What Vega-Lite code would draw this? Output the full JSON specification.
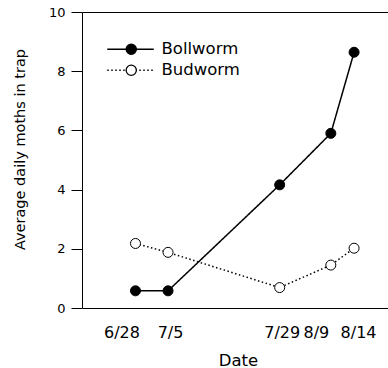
{
  "$schema": "https://vega.github.io/schema/vega-lite/v6.json",
  "width": 306,
  "height": 296,
  "autosize": {"type": "none"},
  "padding": {"left": 82, "top": 12, "right": 0, "bottom": 60},
  "background": "white",
  "config": {
    "view": {"stroke": null},
    "font": "DejaVu Sans",
    "axis": {"labelColor": "black", "titleColor": "black", "domainColor": "black", "tickColor": "black", "domainWidth": 1, "tickWidth": 1, "titleFontWeight": "normal", "labelFont": "DejaVu Sans", "titleFont": "DejaVu Sans"},
    "legend": {"labelFont": "DejaVu Sans", "labelFontSize": 16.5, "labelColor": "black", "padding": 0, "rowPadding": 4, "labelOffset": 22, "symbolSize": 144}
  },
  "data": {
    "values": [
      {"date": "2000-06-28", "species": "Bollworm", "moths": 0.58},
      {"date": "2000-07-05", "species": "Bollworm", "moths": 0.58},
      {"date": "2000-07-29", "species": "Bollworm", "moths": 4.16},
      {"date": "2000-08-09", "species": "Bollworm", "moths": 5.9},
      {"date": "2000-08-14", "species": "Bollworm", "moths": 8.64},
      {"date": "2000-06-28", "species": "Budworm", "moths": 2.18},
      {"date": "2000-07-05", "species": "Budworm", "moths": 1.88},
      {"date": "2000-07-29", "species": "Budworm", "moths": 0.69},
      {"date": "2000-08-09", "species": "Budworm", "moths": 1.45},
      {"date": "2000-08-14", "species": "Budworm", "moths": 2.02}
    ]
  },
  "encoding": {
    "x": {
      "field": "date",
      "type": "temporal",
      "scale": {
        "type": "utc",
        "domain": [
          {"year": 2000, "month": 6, "date": 16, "hours": 12, "utc": true},
          {"year": 2000, "month": 8, "date": 21, "hours": 7, "utc": true}
        ]
      },
      "axis": {
        "values": [
          {"year": 2000, "month": 6, "date": 28, "utc": true},
          {"year": 2000, "month": 7, "date": 5, "utc": true},
          {"year": 2000, "month": 7, "date": 29, "utc": true},
          {"year": 2000, "month": 8, "date": 9, "utc": true},
          {"year": 2000, "month": 8, "date": 14, "utc": true}
        ],
        "labelExpr": "utcFormat(datum.value, '%-m/%-d')",
        "ticks": false,
        "tickSize": 0,
        "grid": false,
        "labelPadding": 16,
        "labelFontSize": 16,
        "labelOverlap": false,
        "labelFlush": false,
        "labelOffset": {
          "condition": [
            {"test": "utcdate(datum.value) == 28", "value": -14},
            {"test": "utcdate(datum.value) == 9", "value": -15},
            {"test": "utcdate(datum.value) == 14", "value": 4}
          ],
          "value": 2
        },
        "title": "Date",
        "titleFontSize": 16.5,
        "titleBaseline": "alphabetic",
        "titleX": 156,
        "titleY": 57
      }
    },
    "y": {
      "field": "moths",
      "type": "quantitative",
      "scale": {"domain": [0, 10], "nice": false},
      "axis": {
        "values": [0, 2, 4, 6, 8, 10],
        "tickSize": 11,
        "labelPadding": 6,
        "labelFontSize": 13,
        "grid": true,
        "gridColor": "black",
        "gridOpacity": {"condition": {"test": "datum.value == 10", "value": 1}, "value": 0},
        "title": "Average daily moths in trap",
        "titleFontSize": 14.5,
        "titleBaseline": "alphabetic",
        "titleAlign": "center",
        "titleX": -58,
        "titleY": 137
      }
    }
  },
  "layer": [
    {
      "mark": {"type": "line", "color": "black", "strokeWidth": 1.5},
      "encoding": {
        "strokeDash": {
          "field": "species",
          "type": "nominal",
          "scale": {"domain": ["Budworm", "Bollworm"], "range": [[1.5, 2.5], [1, 0]]},
          "legend": {
            "title": null,
            "orient": "none",
            "legendX": 41,
            "legendY": 29,
            "values": ["Bollworm", "Budworm"],
            "symbolType": "M-4,0L3.75,0",
            "symbolStrokeColor": "black",
            "symbolStrokeWidth": 1.5
          }
        }
      }
    },
    {
      "mark": {"type": "point", "filled": true, "size": 100, "stroke": "black", "strokeWidth": 1, "opacity": 1},
      "encoding": {
        "fill": {
          "field": "species",
          "type": "nominal",
          "scale": {"domain": ["Bollworm", "Budworm"], "range": ["black", "white"]},
          "legend": {
            "title": null,
            "orient": "none",
            "legendX": 41,
            "legendY": 29,
            "symbolType": "M-0.85,0A0.85,0.85,0,1,1,0.85,0A0.85,0.85,0,1,1,-0.85,0Z",
            "symbolStrokeColor": "black",
            "symbolStrokeWidth": 1.3,
            "labelOpacity": 0
          }
        }
      }
    }
  ]
}
